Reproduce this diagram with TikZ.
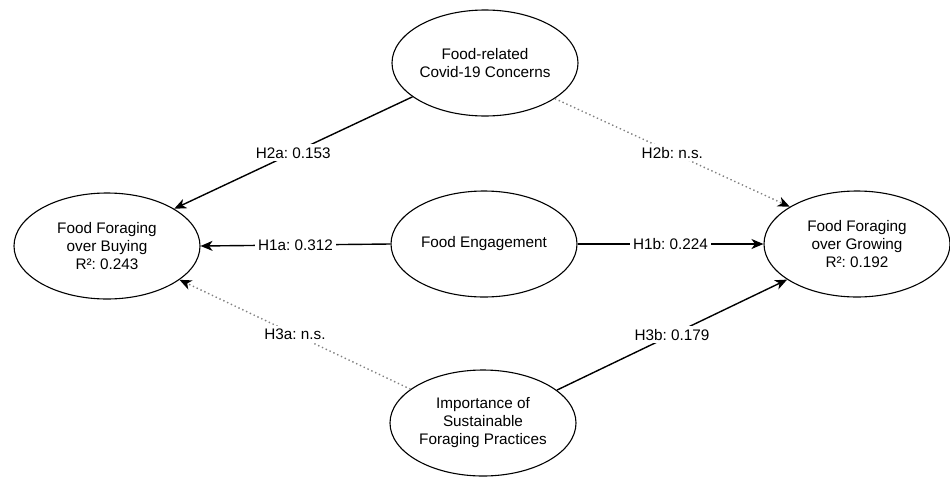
\documentclass[tikz,border=0pt]{standalone}
\usepackage{fontspec}
\setmainfont{Liberation Sans}
\usepackage{tikz}
\usetikzlibrary{shapes.geometric, arrows.meta}
\frenchspacing
\tikzstyle{construct} = [draw, ellipse, line width=1.1pt, inner sep=0pt,
   minimum width=186pt, minimum height=106pt, align=center]
\tikzstyle{sigArrow} = [line width=1.4pt,
   -{Stealth[length=12pt, width=10pt, inset=3.5pt]}]
\tikzstyle{nsArrow} = [line width=1.4pt, gray, dash pattern=on 1.4pt off 2.8pt,
   -{Stealth[length=12pt, width=10pt, inset=3.5pt, color=black]}]
\tikzstyle{coef} = [fill=white, text=black, inner sep=3pt]

\begin{document}
\begin{tikzpicture}[x=1pt, y=-1pt, font=\fontsize{15.3}{18}\selectfont]
  \useasboundingbox (0,0) rectangle (950,477);

  \node[construct] at (485,63)(concern){Food-related\\Covid-19 Concerns};
  \node[construct] at (107,246)(buying){Food Foraging\\over Buying\\R²: 0.243};
  \node[construct] at (484,244)(engage){Food Engagement};
  \node[construct] at (857,244)(growing){Food Foraging\\over Growing\\R²: 0.192};
  \node[construct] at (483,423)(practice){Importance of\\Sustainable\\Foraging Practices};

  \draw[sigArrow] (concern.205) -- node[coef]{H2a: 0.153} (buying.29);
  \draw[nsArrow] (concern.333) -- node[coef]{H2b: n.s.} (growing.151);
  \draw[sigArrow] (engage.west) -- node[coef]{H1a: 0.312} (buying.east);
  \draw[sigArrow] (engage.east) -- node[coef]{H1b: 0.224} (growing.west);
  \draw[nsArrow] (practice.155) -- node[coef]{H3a: n.s.} (buying.335);
  \draw[sigArrow] (practice.24) -- node[coef]{H3b: 0.179} (growing.207);
\end{tikzpicture}
\end{document}
